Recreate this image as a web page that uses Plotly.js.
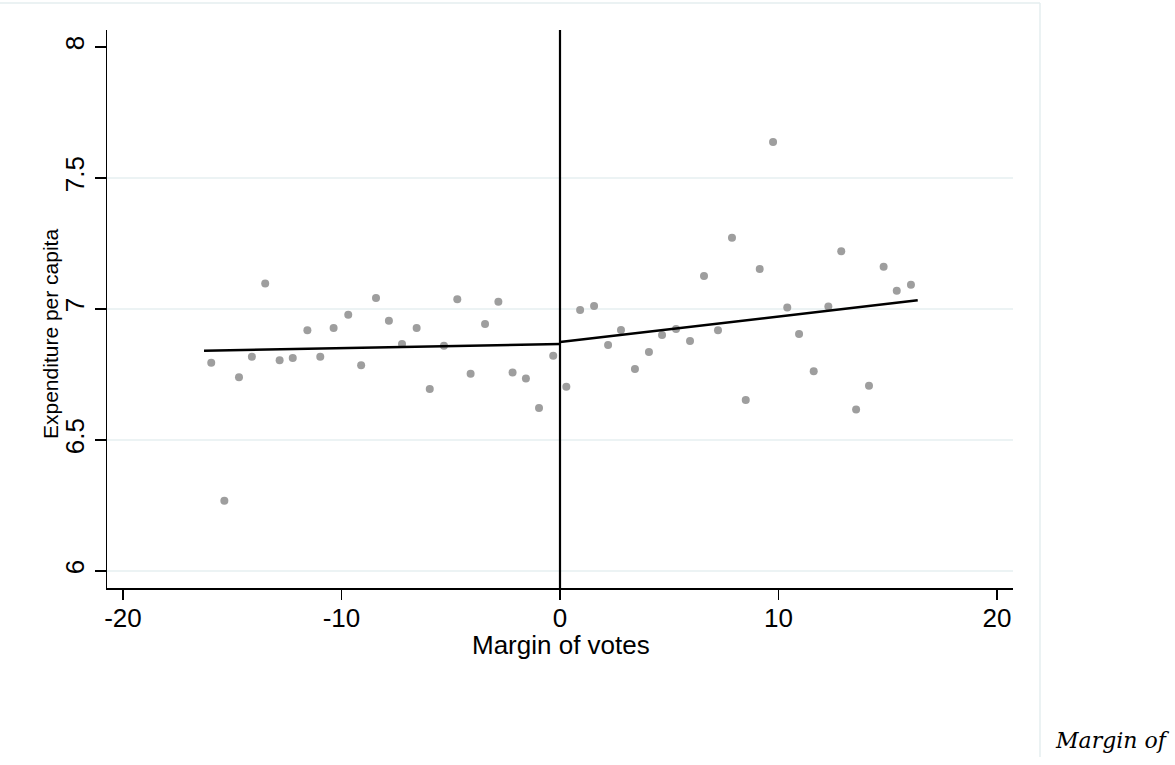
<!DOCTYPE html>
<html>
<head>
<meta charset="utf-8">
<script src="https://cdn.plot.ly/plotly-3.0.1.min.js"></script>
<style>html,body{margin:0;padding:0;background:#fff;}#chart{width:1175px;height:765px;}</style>
</head>
<body>
<div id="chart"></div>
<script>
// Binned scatter: margin of votes vs expenditure per capita
const marginLeft = [-15.96, -15.36, -14.69, -14.10, -13.49, -12.83, -12.23, -11.56, -10.97, -10.36, -9.69, -9.10, -8.42, -7.83, -7.23, -6.56, -5.96, -5.31, -4.70, -4.09, -3.43, -2.82, -2.17, -1.56, -0.96, -0.31];
const expendLeft = [6.795, 6.268, 6.739, 6.818, 7.097, 6.804, 6.813, 6.919, 6.818, 6.927, 6.978, 6.785, 7.042, 6.955, 6.866, 6.927, 6.695, 6.860, 7.037, 6.753, 6.943, 7.028, 6.758, 6.735, 6.622, 6.822];
const marginRight = [0.29, 0.92, 1.56, 2.20, 2.79, 3.43, 4.07, 4.67, 5.31, 5.95, 6.59, 7.23, 7.87, 8.50, 9.14, 9.75, 10.40, 10.94, 11.61, 12.28, 12.87, 13.55, 14.14, 14.81, 15.41, 16.06];
const expendRight = [6.703, 6.996, 7.011, 6.863, 6.920, 6.771, 6.836, 6.901, 6.924, 6.878, 7.126, 6.919, 7.272, 6.653, 7.153, 7.637, 7.006, 6.905, 6.762, 7.010, 7.220, 6.616, 6.707, 7.161, 7.070, 7.093];
const fitLeftX = [-16.29, 0];
const fitLeftY = [6.841, 6.866];
const fitRightX = [0, 16.37];
const fitRightY = [6.874, 7.033];
const xTicks = [-20, -10, 0, 10, 20];
const yTicks = [6, 6.5, 7, 7.5, 8];
const yGrid = [6, 6.5, 7, 7.5];
const cutoff = 0;
const xTitle = 'Margin of votes';
const yTitle = 'Expenditure per capita';
const cornerText = 'Margin of';

const markerStyle = {color: '#9e9e9e', size: 8, line: {width: 0}};
const lineStyle = {color: '#000000', width: 2.5};

const traces = [
  {x: marginLeft, y: expendLeft, mode: 'markers', type: 'scatter', marker: markerStyle},
  {x: marginRight, y: expendRight, mode: 'markers', type: 'scatter', marker: markerStyle},
  {x: fitLeftX, y: fitLeftY, mode: 'lines', type: 'scatter', line: lineStyle},
  {x: fitRightX, y: fitRightY, mode: 'lines', type: 'scatter', line: lineStyle}
];

const PW = 906, PH = 558, L = 107, T = 30;
const px = v => (v - L) / PW;
const py = v => (T + PH - v) / PH;

const shapes = [];
yGrid.forEach(v => shapes.push({type: 'line', xref: 'paper', yref: 'y', x0: 0, x1: 1, y0: v, y1: v, line: {color: '#e6eff1', width: 1.5}, layer: 'below'}));
shapes.push({type: 'line', xref: 'x', yref: 'paper', x0: cutoff, x1: cutoff, y0: 0, y1: 1, line: {color: '#000', width: 2.2}});
// outer graph border (top and right)
shapes.push({type: 'line', xref: 'paper', yref: 'paper', x0: px(0), x1: px(1040), y0: py(3), y1: py(3), line: {color: '#e4eeef', width: 1.5}});
shapes.push({type: 'line', xref: 'paper', yref: 'paper', x0: px(1040), x1: px(1040), y0: py(3), y1: py(757), line: {color: '#e4eeef', width: 1.5}});

const font = {family: 'Liberation Sans, Arial, sans-serif', color: '#000', size: 26};
const yTitleFont = {family: 'Liberation Sans, Arial, sans-serif', color: '#000', size: 21};

const layout = {
  width: 1175, height: 765,
  margin: {l: L, r: 1175 - L - PW, t: T, b: 765 - T - PH, pad: 0},
  paper_bgcolor: '#fff', plot_bgcolor: '#fff',
  showlegend: false,
  font: font,
  xaxis: {
    range: [-20.73, 20.73], tickvals: xTicks, ticktext: xTicks.map(String),
    showgrid: false, zeroline: false, showline: true, linecolor: '#000', linewidth: 1.5,
    ticks: 'outside', ticklen: 10, tickwidth: 1.5, tickcolor: '#000',
    tickfont: font, ticklabelstandoff: -4
  },
  yaxis: {
    range: [5.935, 8.065], tickvals: yTicks, ticktext: ['6', '6.5', '7', '7.5', '8'],
    showgrid: false, zeroline: false, showline: true, linecolor: '#000', linewidth: 1.5,
    ticks: 'outside', ticklen: 11, tickwidth: 1.5, tickcolor: '#000',
    tickangle: -90, tickfont: font
  },
  shapes: shapes,
  annotations: [
    {xref: 'paper', yref: 'paper', x: px(561), y: py(645), xanchor: 'center', yanchor: 'middle',
     showarrow: false, text: xTitle, font: font},
    {xref: 'paper', yref: 'paper', x: px(50), y: py(334), xanchor: 'center', yanchor: 'middle',
     showarrow: false, text: yTitle, font: yTitleFont, textangle: -90},
    {xref: 'paper', yref: 'paper', x: px(1053), y: py(740), xanchor: 'left', yanchor: 'middle',
     showarrow: false, text: '<i>' + cornerText + '</i>',
     font: {family: 'DejaVu Serif, Liberation Serif, serif', size: 22, color: '#000'}}
  ]
};

Plotly.newPlot('chart', traces, layout, {displayModeBar: false, staticPlot: true});
</script>
</body>
</html>
